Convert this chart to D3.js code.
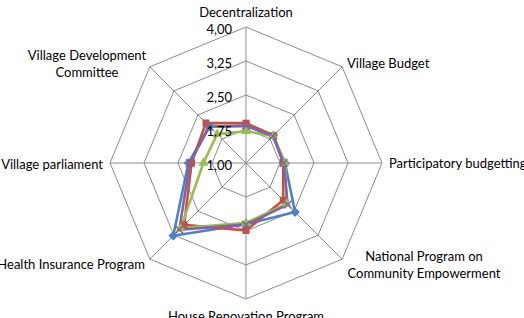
<!DOCTYPE html>
<html>
<head>
<meta charset="utf-8">
<script src="https://cdn.jsdelivr.net/npm/d3@7"></script>
<style>
  html, body { margin: 0; padding: 0; background: #fff; }
  svg text { font-family: Lato, "Open Sans", sans-serif; fill: #000; }
</style>
</head>
<body>
<svg id="chart" width="524" height="318"></svg>
<script>
// categories, clockwise from top
var categories = [
  ["Decentralization"],
  ["Village Budget"],
  ["Participatory budgetting"],
  ["National Program on", "Community Empowerment"],
  ["House Renovation Program"],
  ["Health Insurance Program"],
  ["Village parliament"],
  ["Village Development", "Committee"]
];
var tickValues = [1.00, 1.75, 2.50, 3.25, 4.00];

// series values
var seriesBlue   = [1.82, 1.85, 1.86, 2.53, 2.35, 3.27, 2.27, 2.14];
var seriesRed    = [1.88, 1.86, 1.82, 2.16, 2.49, 2.93, 2.20, 2.25];
var seriesGreen  = [1.70, 1.84, 1.86, 2.27, 2.32, 3.04, 1.94, 1.90];
var seriesPurple = [1.82, 1.84, 1.83, 2.30, 2.36, 3.08, 2.24, 2.14];

var series = [
  { values: seriesBlue,   color: "#4F81BD", marker: "diamond" },
  { values: seriesRed,    color: "#C0504D", marker: "square" },
  { values: seriesGreen,  color: "#9BBB59", marker: "triangle" },
  { values: seriesPurple, color: "#8064A2", marker: "x" }
];

var cx = 246, cy = 163, R = 136;
var svg = d3.select("#chart");
var g = svg.append("g").attr("transform", "translate(" + cx + "," + cy + ")");

var r = d3.scaleLinear().domain([1, 4]).range([0, R]);
var n = categories.length;
function angle(i) { return i * 2 * Math.PI / n; }
function pt(i, v) {
  var a = angle(i);
  return [Math.sin(a) * r(v), -Math.cos(a) * r(v)];
}

// grid rings
tickValues.slice(1).forEach(function (t) {
  var pts = d3.range(n).map(function (i) { return pt(i, t); });
  g.append("path")
    .attr("d", d3.line()(pts) + "Z")
    .attr("fill", "none")
    .attr("stroke", "#8c8c8c")
    .attr("stroke-width", 1);
});

// spokes
d3.range(n).forEach(function (i) {
  var p = pt(i, 4);
  g.append("line")
    .attr("x1", 0).attr("y1", 0)
    .attr("x2", p[0]).attr("y2", p[1])
    .attr("stroke", "#8c8c8c")
    .attr("stroke-width", 1);
});

// series lines
var line = d3.line().curve(d3.curveLinearClosed);
series.forEach(function (s) {
  var pts = s.values.map(function (v, i) { return pt(i, v); });
  g.append("path")
    .attr("d", line(pts))
    .attr("fill", "none")
    .attr("stroke", s.color)
    .attr("stroke-width", 2.6)
    .attr("stroke-linejoin", "round");
});

// markers
var sym = {
  diamond: d3.symbol().type(d3.symbolDiamond2).size(60),
  square: d3.symbol().type(d3.symbolSquare).size(48),
  triangle: d3.symbol().type(d3.symbolTriangle).size(42),
  x: d3.symbol().type(d3.symbolX).size(40)
};
series.forEach(function (s) {
  s.values.forEach(function (v, i) {
    var p = pt(i, v);
    var m = g.append("path")
      .attr("d", sym[s.marker]())
      .attr("transform", "translate(" + p[0] + "," + p[1] + ")");
    if (s.marker === "x") {
      m.attr("fill", "none").attr("stroke", s.color).attr("stroke-width", 1.5);
    } else {
      m.attr("fill", s.color);
    }
  });
});

// tick labels
g.selectAll(".tick")
  .data(tickValues)
  .enter().append("text")
  .attr("x", -14)
  .attr("y", function (d) { return -r(d) + 2; })
  .attr("dy", "0.35em")
  .attr("text-anchor", "end")
  .style("font-size", "13px")
  .text(function (d) { return d3.format(".2f")(d).replace(".", ","); });

// category labels
var labelPos = [
  { x: 246, y: 12, anchor: "middle" },
  { x: 347, y: 63, anchor: "start" },
  { x: 389, y: 163, anchor: "start" },
  { x: 424, y: 256, anchor: "middle" },
  { x: 246, y: 316, anchor: "middle" },
  { x: 145, y: 264, anchor: "end" },
  { x: 103, y: 164, anchor: "end" },
  { x: 87, y: 55, anchor: "middle" }
];
categories.forEach(function (c, i) {
  var lp = labelPos[i];
  var t = svg.append("text")
    .attr("x", lp.x)
    .attr("y", lp.y)
    .attr("text-anchor", lp.anchor)
    .style("font-size", "13px");
  c.forEach(function (s, k) {
    t.append("tspan")
      .attr("x", lp.x)
      .attr("dy", k === 0 ? "0.35em" : "17px")
      .text(s);
  });
});
</script>
</body>
</html>
